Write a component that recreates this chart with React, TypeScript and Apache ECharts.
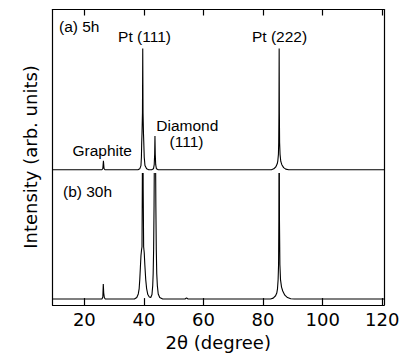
import React, { useEffect, useRef } from "react";
import * as echarts from "echarts";

// 2θ tick values
const xTicks = [20, 40, 60, 80, 100, 120];

// Trace (a) 5h: [2θ, intensity (arb.)]
const trace5h: number[][] = [
  [9.3, 45.8],
  [25.9, 45.8], [26.2, 46.2], [26.4, 48.8], [26.6, 46.2], [26.9, 45.8],
  [38.0, 45.8], [38.6, 46.1], [39.0, 47.2], [39.15, 50], [39.25, 55], [39.35, 58], [39.5, 65],
  [39.6, 86.8],
  [39.7, 65], [39.85, 58], [39.95, 55], [40.1, 50], [40.35, 47.2], [40.9, 46.1], [41.6, 45.8],
  [42.6, 45.8], [43.2, 46.1], [43.45, 47.5], [43.6, 51], [43.7, 57.2], [43.8, 51], [43.95, 47.5],
  [44.2, 46.1], [44.8, 45.8],
  [82.8, 45.8], [83.6, 46.1], [84.3, 46.8], [84.75, 47.8], [84.95, 48.8], [85.15, 51], [85.25, 55],
  [85.33, 65], [85.4, 86.8], [85.47, 65], [85.55, 55], [85.7, 51], [85.95, 48.6], [86.3, 47.5],
  [86.9, 46.5], [87.6, 46.0], [88.6, 45.8],
  [120.6, 45.8],
];

// Trace (b) 30h: [2θ, intensity (arb.)], tall peaks run off the top of the lower panel
const trace30h: number[][] = [
  [9.3, 3.5],
  [25.9, 3.5], [26.2, 4.2], [26.35, 8.5], [26.5, 5.5], [26.7, 4.0], [27.0, 3.5],
  [36.8, 3.5], [37.6, 4.0], [38.1, 5.2], [38.4, 7], [38.6, 10], [38.8, 14], [39.0, 18], [39.2, 20],
  [39.35, 21], [39.45, 40], [39.6, 75], [39.75, 40], [39.9, 21], [40.1, 19], [40.3, 15], [40.6, 10],
  [40.9, 7], [41.3, 5], [41.8, 4.2], [42.3, 4.0],
  [42.7, 5], [42.95, 8], [43.1, 12], [43.25, 20], [43.4, 35], [43.55, 60], [43.7, 75], [43.85, 60],
  [44.0, 35], [44.15, 20], [44.3, 12], [44.5, 8], [44.8, 5.2], [45.3, 4], [46.3, 3.5],
  [53.8, 3.5], [54.3, 3.9], [54.8, 3.5],
  [82.5, 3.5], [83.4, 3.8], [84.2, 4.6], [84.6, 5.5], [84.85, 7], [85.05, 10], [85.2, 15], [85.3, 30],
  [85.4, 75], [85.5, 30], [85.65, 15], [85.85, 10], [86.2, 7.5], [86.6, 6.2], [87.3, 4.8], [88.2, 4.0],
  [89.3, 3.6], [90.5, 3.5],
  [120.6, 3.5],
];

const X_MIN = 9.3;
const X_MAX = 120.6;

export default function App() {
  const ref = useRef<HTMLDivElement>(null);

  useEffect(() => {
    if (!ref.current) return;
    const chart = echarts.init(ref.current, undefined, { renderer: "svg" });
    const axisFont = "'DejaVu Sans', sans-serif";
    const annFont = "'Liberation Sans', Arial, sans-serif";
    const black = "#000";
    const line = { color: black, width: 1.2 };
    const ann = (text: string, x: number, y: number, align = "center") => ({
      type: "text",
      x,
      y,
      silent: true,
      style: { text, fontSize: 15.5, fontFamily: annFont, fill: black, align, verticalAlign: "middle" },
    });

    chart.setOption({
      animation: false,
      backgroundColor: "#fff",
      grid: [
        { left: 52.5, right: 21, top: 9.5, bottom: 46.5, show: false },
        { left: 52.5, right: 21, top: 173.5, bottom: 46.5, show: false },
      ],
      xAxis: [
        {
          gridIndex: 0,
          type: "value",
          min: X_MIN,
          max: X_MAX,
          position: "bottom",
          axisLine: { show: true, onZero: false, lineStyle: line },
          axisTick: { show: true, inside: true, length: 7, customValues: xTicks, lineStyle: line },
          axisLabel: { customValues: xTicks, margin: 5, fontSize: 18, fontFamily: axisFont, color: black },
          splitLine: { show: false },
          name: "2θ (degree)",
          nameLocation: "middle",
          nameGap: 24.5,
          nameTextStyle: { fontSize: 18, fontFamily: axisFont, color: black },
        },
        {
          gridIndex: 0,
          type: "value",
          min: X_MIN,
          max: X_MAX,
          position: "top",
          axisLine: { show: true, onZero: false, lineStyle: line },
          axisTick: { show: true, inside: true, length: 6, customValues: xTicks, lineStyle: line },
          axisLabel: { show: false },
          splitLine: { show: false },
        },
        { gridIndex: 1, type: "value", min: X_MIN, max: X_MAX, show: false },
      ],
      yAxis: [
        {
          gridIndex: 0,
          type: "value",
          min: 0,
          max: 100,
          position: "left",
          axisLine: { show: true, onZero: false, lineStyle: line },
          axisTick: { show: false },
          axisLabel: { show: false },
          splitLine: { show: false },
        },
        {
          gridIndex: 0,
          type: "value",
          min: 0,
          max: 100,
          position: "right",
          axisLine: { show: true, onZero: false, lineStyle: line },
          axisTick: { show: false },
          axisLabel: { show: false },
          splitLine: { show: false },
        },
        { gridIndex: 1, type: "value", min: 0, max: 45.5, show: false },
      ],
      series: [
        {
          name: "(a) 5h",
          type: "line",
          xAxisIndex: 0,
          yAxisIndex: 0,
          data: trace5h,
          showSymbol: false,
          silent: true,
          lineStyle: { color: black, width: 1.1 },
        },
        {
          name: "(b) 30h",
          type: "line",
          xAxisIndex: 2,
          yAxisIndex: 2,
          data: trace30h,
          showSymbol: false,
          silent: true,
          clip: true,
          lineStyle: { color: black, width: 1.1 },
        },
      ],
      graphic: [
        ann("(a) 5h", 59, 26.7, "left"),
        ann("Pt (111)", 144.5, 36.7),
        ann("Pt (222)", 279.5, 36.7),
        ann("Graphite", 102.2, 150),
        ann("Diamond", 187.3, 125),
        ann("(111)", 186.5, 141.7),
        ann("(b) 30h", 63, 191.7, "left"),
        {
          type: "text",
          x: 30,
          y: 157,
          rotation: Math.PI / 2,
          silent: true,
          style: {
            text: "Intensity (arb. units)",
            fontSize: 18,
            fontFamily: axisFont,
            fill: black,
            align: "center",
            verticalAlign: "middle",
          },
        },
      ],
    });
    return () => chart.dispose();
  }, []);

  return (
    <div
      ref={ref}
      style={{ position: "fixed", left: 0, top: 0, width: 405, height: 356, background: "#fff" }}
    />
  );
}
